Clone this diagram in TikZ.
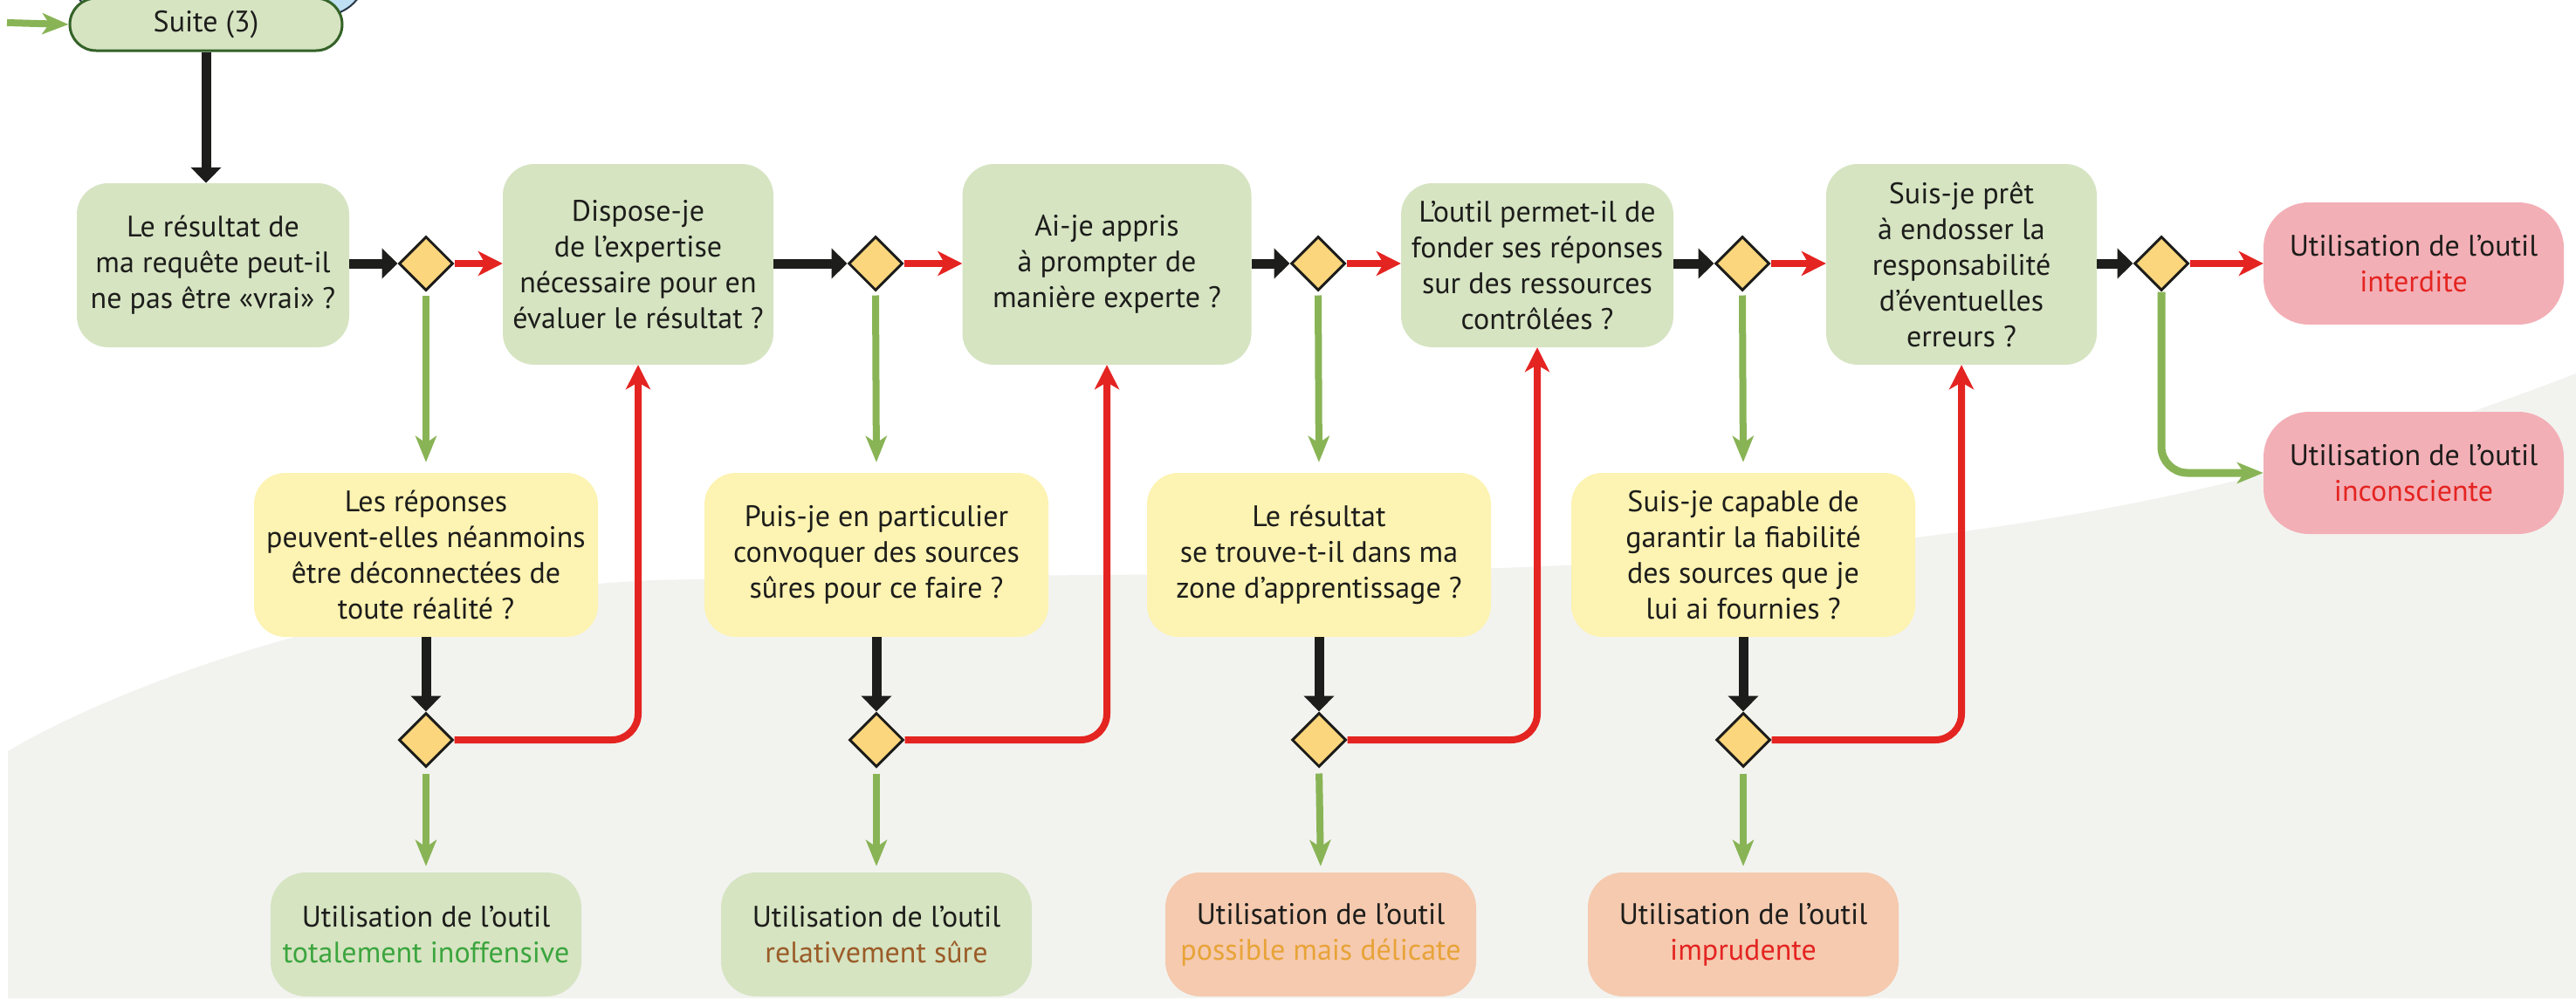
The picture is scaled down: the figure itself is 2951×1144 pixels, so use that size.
\documentclass[tikz,border=0pt]{standalone}
\usepackage{fontspec}
\setmainfont{PT Sans}
\usetikzlibrary{arrows.meta,shapes.geometric}
\definecolor{boxgreen}{RGB}{214,228,194}
\definecolor{boxyellow}{RGB}{253,243,178}
\definecolor{boxpink}{RGB}{243,175,182}
\definecolor{boxpeach}{RGB}{245,202,175}
\definecolor{diafill}{RGB}{251,214,124}
\definecolor{flowred}{RGB}{228,36,33}
\definecolor{flowgreen}{RGB}{137,180,86}
\definecolor{flowblack}{RGB}{29,29,27}
\definecolor{txtgreen}{RGB}{60,165,62}
\definecolor{txtbrown}{RGB}{155,92,40}
\definecolor{txtorange}{RGB}{232,163,56}
\definecolor{bggray}{RGB}{242,243,239}
\definecolor{pillline}{RGB}{52,98,40}
\definecolor{prevblue}{RGB}{190,224,242}
\definecolor{prevline}{RGB}{40,55,70}

\begin{document}
\begin{tikzpicture}[x=1pt,y=-1pt,
  every node/.style={font=\fontsize{34pt}{41pt}\selectfont, text=flowblack, inner sep=0pt, align=center},
  qbox/.style={fill=boxgreen, rounded corners=36pt},
  ybox/.style={fill=boxyellow, rounded corners=36pt, minimum width=394pt, minimum height=188pt},
  rbox/.style={rounded corners=40pt, minimum width=356pt, minimum height=142pt},
  pbox/.style={fill=boxpink, rounded corners=52pt, minimum width=344pt, minimum height=140pt},
  dec/.style={diamond, aspect=1, draw=flowblack, line width=3pt, fill=diafill, minimum width=62pt, minimum height=62pt},
  blk/.style={draw=flowblack, line width=11pt, -{Triangle[length=18pt,width=34pt]}},
  redar/.style={draw=flowred, line width=8pt, -{Stealth[length=28pt,width=28pt,inset=8pt]}},
  grn/.style={draw=flowgreen, line width=8pt, -{Stealth[length=30pt,width=24pt,inset=8pt]}}
]
\useasboundingbox (0,0) rectangle (2951,1144);
\fill[white] (0,0) rectangle (2951,1144);

% light grey backdrop in the lower part
\fill[bggray] (9,1144) -- (9,861) .. controls (120,795) and (400,680) .. (750,665)
  .. controls (1200,655) and (1650,665) .. (2000,635)
  .. controls (2300,612) and (2600,565) .. (2951,428) -- (2951,1144) -- cycle;

% previous step, partly hidden behind the start pill
\draw[draw=prevline, line width=2pt, fill=prevblue, rounded corners=50pt] (80,-90) rectangle (420,18);

% start pill
\node[draw=pillline, line width=3pt, fill=boxgreen, rounded corners=30pt,
      minimum width=312pt, minimum height=60pt] (S) at (236,28) {Suite (3)};
\coordinate (in) at (8,26);

% first row of questions
\node[qbox, minimum width=312pt, minimum height=188pt] (A) at (244,304)
  {Le résultat de\\ma requête peut-il\\ne pas être «vrai» ?};
\node[qbox, minimum width=310pt, minimum height=230pt] (B) at (731,303)
  {Dispose-je\\de l’expertise\\nécessaire pour en\\évaluer le résultat ?};
\node[qbox, minimum width=331pt, minimum height=230pt] (C) at (1268,303)
  {Ai-je appris\\à prompter de\\manière experte ?};
\node[qbox, minimum width=312pt, minimum height=188pt] (D) at (1761,304)
  {L’outil permet-il de\\fonder ses réponses\\sur des ressources\\contrôlées ?};
\node[qbox, minimum width=310pt, minimum height=230pt] (E) at (2247,303)
  {Suis-je prêt\\à endosser la\\responsabilité\\d’éventuelles\\erreurs ?};
\node[pbox] (F) at (2765,302) {Utilisation de l’outil\\\textcolor{flowred}{interdite}};
\node[pbox] (G) at (2765,542) {Utilisation de l’outil\\\textcolor{flowred}{inconsciente}};

% decisions of the first row
\node[dec] (D1) at (488,302) {};
\node[dec] (D2) at (1003,302) {};
\node[dec] (D3) at (1510,302) {};
\node[dec] (D4) at (1996,302) {};
\node[dec] (D5) at (2476,302) {};

% second row of questions
\node[ybox] (Y1) at (488,636) {Les réponses\\peuvent-elles néanmoins\\être déconnectées de\\toute réalité ?};
\node[ybox] (Y2) at (1004,636) {Puis-je en particulier\\convoquer des sources\\sûres pour ce faire ?};
\node[ybox] (Y3) at (1511,636) {Le résultat\\se trouve-t-il dans ma\\zone d’apprentissage ?};
\node[ybox] (Y4) at (1997,636) {Suis-je capable de\\garantir la fiabilité\\des sources que je\\lui ai fournies ?};

% decisions of the second row
\node[dec] (L1) at (488,848) {};
\node[dec] (L2) at (1004,848) {};
\node[dec] (L3) at (1511,848) {};
\node[dec] (L4) at (1997,848) {};

% outcomes
\node[rbox, fill=boxgreen] (R1) at (488,1071) {Utilisation de l’outil\\\textcolor{txtgreen}{totalement inoffensive}};
\node[rbox, fill=boxgreen] (R2) at (1004,1071) {Utilisation de l’outil\\\textcolor{txtbrown}{relativement sûre}};
\node[rbox, fill=boxpeach] (R3) at (1513,1071) {Utilisation de l’outil\\\textcolor{txtorange}{possible mais délicate}};
\node[rbox, fill=boxpeach] (R4) at (1997,1071) {Utilisation de l’outil\\\textcolor{flowred}{imprudente}};

% connectors
\draw[grn] (in) -- (S.west);
\draw[blk] (S.south) -- (S.south |- A.north);

\draw[blk] (A.east |- D1.west) -- (D1.west);
\draw[blk] (B.east |- D2.west) -- (D2.west);
\draw[blk] (C.east |- D3.west) -- (D3.west);
\draw[blk] (D.east |- D4.west) -- (D4.west);
\draw[blk] (E.east |- D5.west) -- (D5.west);

\draw[redar] (D1.east) -- (B.west |- D1.east);
\draw[redar] (D2.east) -- (C.west |- D2.east);
\draw[redar] (D3.east) -- (D.west |- D3.east);
\draw[redar] (D4.east) -- (E.west |- D4.east);
\draw[redar] (D5.east) -- (F.west |- D5.east);
\draw[grn, line width=9pt, rounded corners=30pt] (D5.south) |- (G.west);

\foreach \i in {1,2,3,4}{
  \draw[grn, shorten >=12pt, shorten <=4pt] (D\i.south) -- (Y\i.north);
  \draw[blk] (Y\i.south) -- (L\i.north);
  \draw[grn, shorten >=7pt, shorten <=6pt] (L\i.south) -- (R\i.north);
}
\draw[redar, rounded corners=30pt] (L1.east) -| (B.south);
\draw[redar, rounded corners=30pt] (L2.east) -| (C.south);
\draw[redar, rounded corners=30pt] (L3.east) -| (D.south);
\draw[redar, rounded corners=30pt] (L4.east) -| (E.south);
\end{tikzpicture}
\end{document}
